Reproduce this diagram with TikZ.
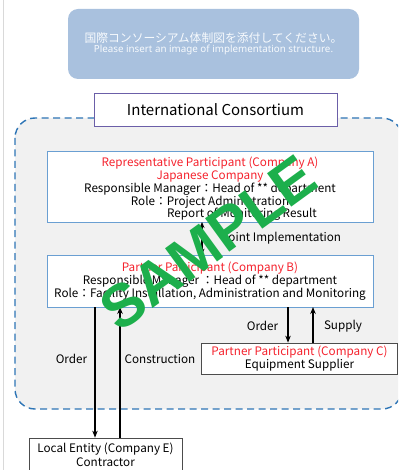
\documentclass[tikz,border=0pt]{standalone}
\usepackage{fontspec}
\setmainfont{Noto Sans CJK JP}
\newfontfamily\notefont{Noto Sans}
\newfontfamily\markfont{Liberation Sans}
\usetikzlibrary{arrows.meta,positioning}
\definecolor{noteblue}{HTML}{A9C1DE}
\definecolor{notetext}{HTML}{F7FAFD}
\definecolor{dashblue}{HTML}{2E75B6}
\definecolor{areagray}{HTML}{F1F1F1}
\definecolor{boxblue}{HTML}{6A9FD2}
\definecolor{titleframe}{HTML}{6B5FA8}
\definecolor{partred}{HTML}{F5222D}
\definecolor{markgreen}{HTML}{1DAF4C}
\begin{document}
\begin{tikzpicture}[x=1pt,y=-1pt,>=Stealth]
    % styles
    \tikzset{
        partbox/.style={draw=boxblue,line width=0.8pt,fill=white,minimum width=326pt,
            inner sep=0pt,align=center,font=\fontsize{11.7}{12.8}\selectfont},
        plainbox/.style={draw=black!70,line width=0.7pt,fill=white,inner sep=0pt,
            align=center,font=\fontsize{11.7}{13.8}\selectfont},
        flow/.style={-{Stealth[length=7pt,width=5.5pt]},line width=1.4pt},
        label/.style={font=\fontsize{11.7}{13}\selectfont,inner sep=0pt}
    }
    \useasboundingbox (0,0) rectangle (398,470);
    \clip (0,0) rectangle (398,470);
    \draw[black!15,line width=0.8pt] (3,0) -- (3,470);

    % note box
    \node[fill=noteblue,rounded corners=10pt,minimum width=291pt,minimum height=70pt,
        inner sep=0pt,align=center,text=notetext] (note) at (213.5,44)
        {{\fontsize{11.8}{16}\selectfont 国際コンソーシアム体制図を添付してください。}\\[-2pt]
         {\notefont\fontsize{9.8}{12}\selectfont Please insert an image of implementation structure.}};

    % consortium area
    \draw[dashblue,fill=areagray,line width=1.4pt,dash pattern=on 7pt off 4.5pt,
        rounded corners=20pt] (15,118) rectangle (402,409);
    \node[draw=titleframe,line width=0.8pt,fill=white,minimum width=243pt,minimum height=33pt,
        inner sep=0pt,font=\fontsize{15}{18}\selectfont] (title) at (215.5,109.5)
        {International Consortium};

    % participants
    \node[partbox,minimum height=71pt] (A) at (210,186.5) {};
    \node[partbox,draw=none,fill=none,minimum width=0pt] (Atext) at ([yshift=-2.5pt]A.center)
        {\textcolor{partred}{Representative Participant (Company A)}\\
         \textcolor{partred}{Japanese Company}\\
         Responsible Manager：Head of ** department\\
         Role：Project Administration\\
         \hspace*{64pt}Report of Monitoring Result};
    \node[partbox,minimum height=52pt] (B) at (210,281)
        {\textcolor{partred}{Partner Participant (Company B)}\\
         Responsible Manager ：Head of ** department\\
         Role：Facility Installation, Administration and Monitoring};
    \node[plainbox,minimum width=196pt,minimum height=31pt] (C) at (299.5,358.5)
        {\textcolor{partred}{Partner Participant (Company C)}\\
         Equipment Supplier};
    \node[plainbox,minimum width=153pt,minimum height=34pt] (E) at (105.5,455)
        {Local Entity (Company E)\\
         Contractor};

    % connectors
    \coordinate (jA) at (202,222);
    \draw[{Stealth[length=6pt,width=5pt]}-{Stealth[length=6pt,width=5pt]},line width=1.4pt]
        (jA) -- (jA |- B.north);
    \coordinate (oE) at (95,307);
    \coordinate (cE) at (120,307);
    \coordinate (oC) at (288,307);
    \coordinate (sC) at (313,307);
    \draw[flow] (oE) -- (oE |- E.north);
    \draw[flow] (cE |- E.north) -- (cE);
    \draw[flow] (oC) -- (oC |- C.north);
    \draw[flow] (sC |- C.north) -- (sC);

    % labels
    \node[label,anchor=west] (joint) at (222,238.5) {Joint Implementation};
    \node[label] (orderE) at (71.5,359) {Order};
    \node[label] (build) at (160,359) {Construction};
    \node[label] (orderC) at (262.5,326) {Order};
    \node[label] (supply) at (343,326) {Supply};

    % watermark
    \node[text=markgreen,rotate=36,inner sep=0pt,font=\markfont\bfseries\fontsize{60}{64}\selectfont]
        (mark) at (208,243) {SAMPLE};
\end{tikzpicture}
\end{document}
